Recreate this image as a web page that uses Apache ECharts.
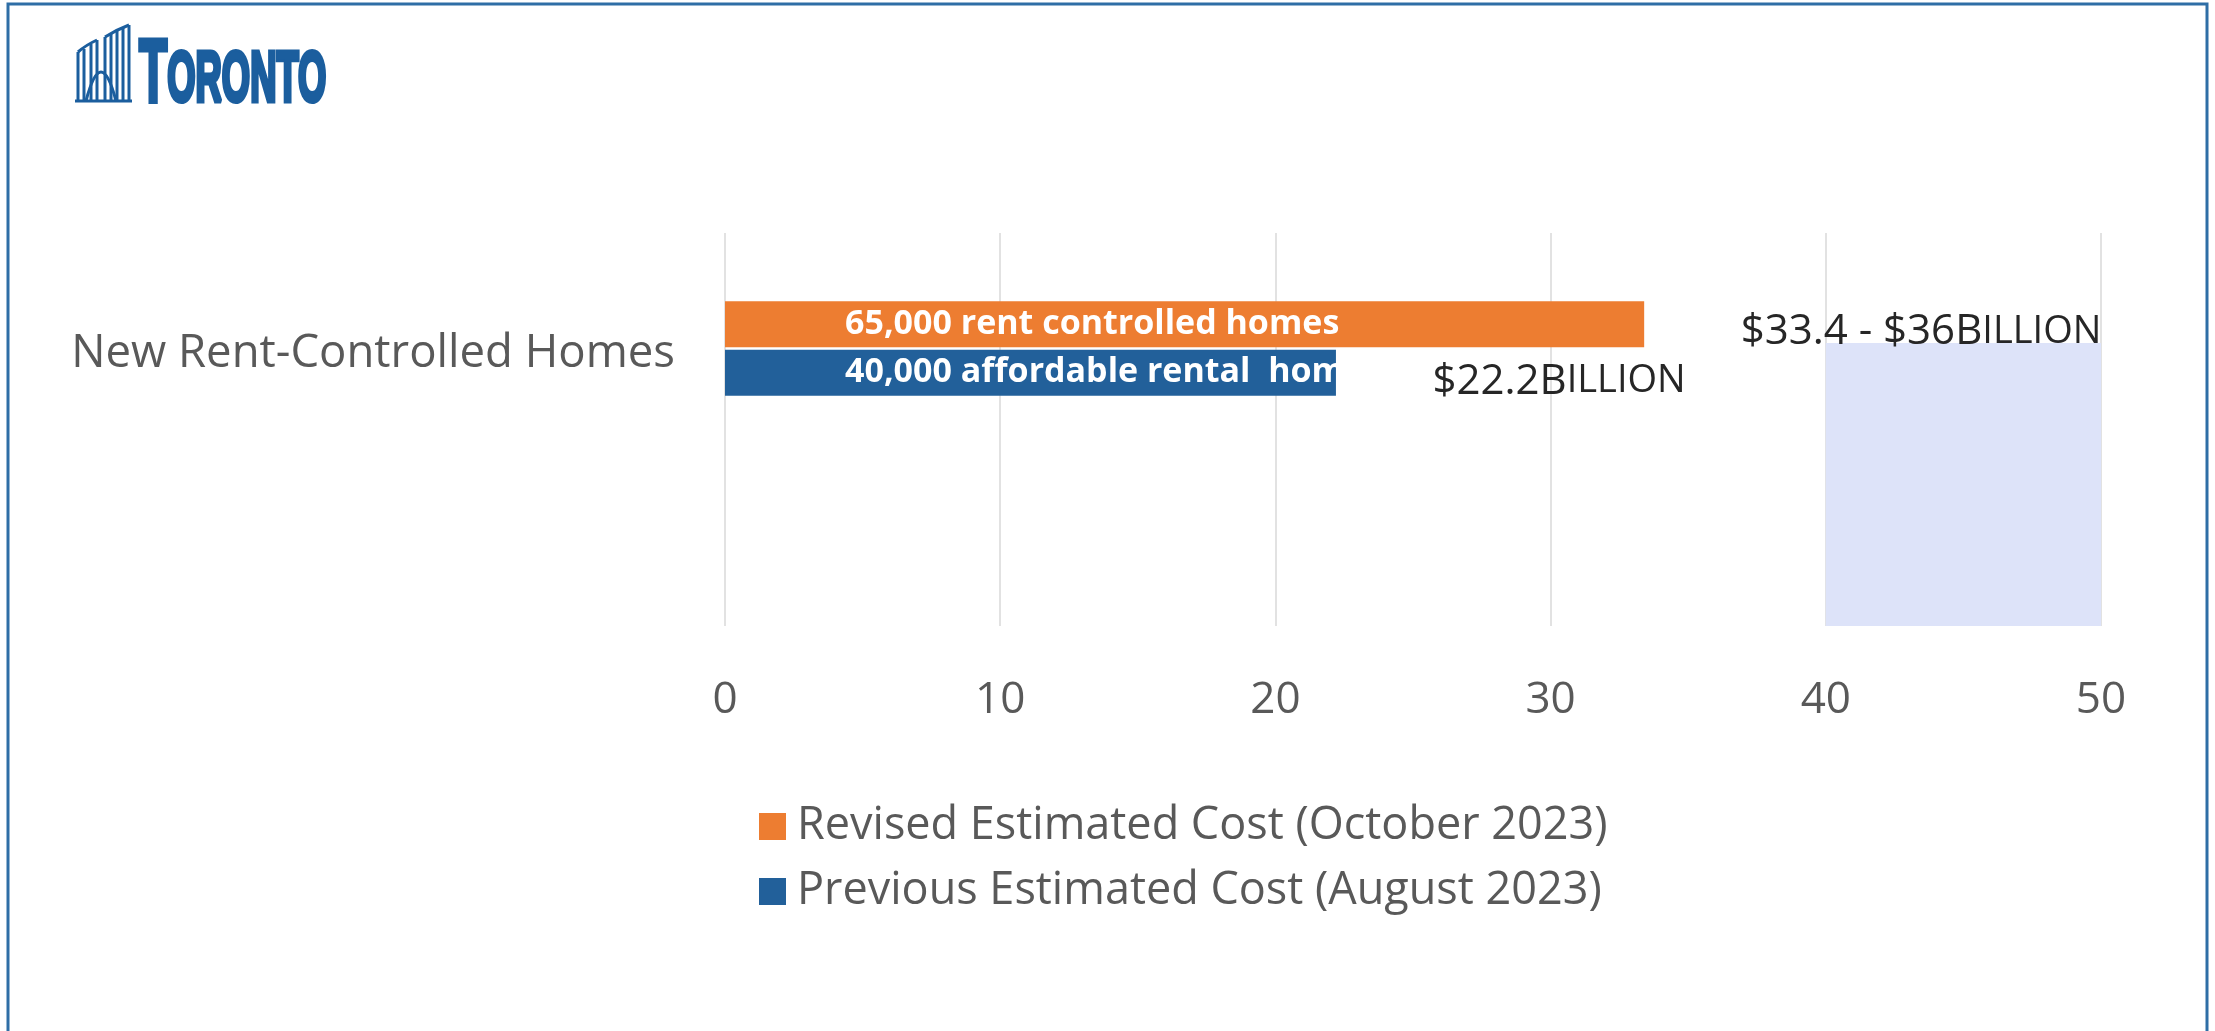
<!DOCTYPE html>
<html>
<head>
<meta charset="utf-8">
<script src="https://cdn.jsdelivr.net/npm/echarts@6/dist/echarts.min.js"></script>
<style>
  html, body { margin: 0; padding: 0; background: #fff; }
  #chart { width: 2215px; height: 1031px; }
</style>
</head>
<body>
<div id="chart"></div>
<script>
/* chart data */
const categories = ['New Rent-Controlled Homes']
const seriesNames = ['Revised Estimated Cost (October 2023)', 'Previous Estimated Cost (August 2023)']
const revisedCost = [33.4]
const previousCost = [22.2]
const barTexts = ['65,000 rent controlled homes', '40,000 affordable rental  homes']
const costTexts = [['$33.4 - $36B', 'ILLION'], ['$22.2B', 'ILLION']]
const xTicks = [0, 10, 20, 30, 40, 50]
const highlightRange = [40, 50]
const highlightTop = 0.72

const ORANGE = '#ED7D31'
const BLUE = '#22609A'
const GREY = '#595959'
const LOGO = '#1B5E9E'
const FONT = '"Open Sans", sans-serif'

var myChart = echarts.init(document.getElementById('chart'))

// cost label drawn as marker at end of each bar
function costMark(idx, value, dy) {
  return {
    symbol: 'rect',
    symbolSize: 1,
    itemStyle: { color: 'rgba(0,0,0,0)' },
    label: {
      show: true,
      position: 'right',
      distance: 96,
      offset: [0, dy],
      formatter: '{a|' + costTexts[idx][0] + '}{b|' + costTexts[idx][1] + '}',
      rich: {
        a: { fontFamily: FONT, fontSize: 42, color: '#262626' },
        b: { fontFamily: FONT, fontSize: 38, color: '#262626' },
      },
    },
    data: [{ coord: [value, categories[0]] }],
  }
}

// white text inside bar; the part past the bar end is lost on the white page
function barLabel(idx, width) {
  return {
    show: true,
    position: 'insideLeft',
    distance: 120,
    formatter: barTexts[idx],
    color: '#fff',
    fontFamily: FONT,
    fontWeight: 'bold',
    fontSize: 34,
    width: width,
    overflow: 'truncate',
    ellipsis: '',
  }
}

/* logo strokes */
function seg(x1, y1, x2, y2) {
  return { type: 'line', shape: { x1: x1, y1: y1, x2: x2, y2: y2 }, style: { stroke: LOGO, lineWidth: 3 } }
}
function curve(x1, y1, cx, cy, x2, y2) {
  return {
    type: 'bezierCurve',
    shape: { x1: x1, y1: y1, cpx1: cx, cpy1: cy, x2: x2, y2: y2 },
    style: { stroke: LOGO, lineWidth: 3, fill: 'none' },
  }
}

const logoParts = [
  seg(75, 101, 132, 101),
  seg(78, 101, 78, 52), curve(78, 52, 86, 45, 97, 40), seg(97, 40, 97, 101),
  seg(84, 101, 84, 49), seg(91, 101, 91, 44),
  seg(105, 101, 105, 37), curve(105, 37, 116, 30, 129, 25), seg(129, 25, 129, 101),
  seg(111, 101, 111, 34), seg(117, 101, 117, 31), seg(123, 101, 123, 28),
  curve(86, 101, 101, 43, 116, 101),
  {
    type: 'text',
    x: 139,
    y: 121,
    scaleX: 0.52,
    style: {
      text: '{t|T}{r|ORONTO}',
      verticalAlign: 'bottom',
      rich: {
        t: { fontFamily: '"Liberation Sans", sans-serif', fontWeight: 'bold', fontSize: 89, fill: LOGO, stroke: LOGO, lineWidth: 5, verticalAlign: 'bottom' },
        r: { fontFamily: '"Liberation Sans", sans-serif', fontWeight: 'bold', fontSize: 70, fill: LOGO, stroke: LOGO, lineWidth: 5, verticalAlign: 'bottom', padding: [0, 0, 4, 0] },
      },
    },
  },
]

const option = {
  animation: false,
  legend: {
    orient: 'vertical',
    left: 754,
    top: 799,
    icon: 'rect',
    itemWidth: 27,
    itemHeight: 27,
    itemGap: 20,
    data: seriesNames,
    textStyle: { fontFamily: FONT, fontSize: 45, lineHeight: 45, color: GREY, padding: [0, 0, 0, 6] },
  },
  grid: [
    // background grid: split lines + tick labels
    { left: 725, right: 114, top: 233, bottom: 405 },
    // bars
    { left: 725, right: 114, top: 300, height: 97 },
  ],
  xAxis: [
    {
      gridIndex: 0,
      type: 'value',
      min: xTicks[0],
      max: xTicks[xTicks.length - 1],
      interval: xTicks[1] - xTicks[0],
      axisLine: { show: false },
      axisTick: { show: false },
      axisLabel: { fontFamily: FONT, fontSize: 44, color: GREY, margin: 52 },
      splitLine: { lineStyle: { color: '#D9D9D9', width: 1.5 } },
    },
    {
      gridIndex: 1,
      type: 'value',
      min: xTicks[0],
      max: xTicks[xTicks.length - 1],
      show: false,
      splitLine: { show: false },
    },
  ],
  yAxis: [
    { gridIndex: 0, type: 'value', min: 0, max: 1, show: false, splitLine: { show: false } },
    {
      gridIndex: 1,
      type: 'category',
      data: categories,
      axisLine: { show: false },
      axisTick: { show: false },
      axisLabel: {
        margin: 50,
        formatter: '{c|{value}}',
        rich: { c: { fontFamily: FONT, fontSize: 45.5, color: GREY, padding: [12, 0, 0, 0] } },
      },
    },
  ],
  series: [
    {
      name: 'highlight',
      type: 'line',
      xAxisIndex: 0,
      yAxisIndex: 0,
      data: [[highlightRange[0], 0]],
      showSymbol: false,
      silent: true,
      markArea: {
        silent: true,
        itemStyle: { color: '#DDE3F9' },
        data: [[{ coord: [highlightRange[0], 0] }, { coord: [highlightRange[1], highlightTop] }]],
      },
    },
    {
      name: seriesNames[0],
      type: 'bar',
      xAxisIndex: 1,
      yAxisIndex: 1,
      data: revisedCost,
      barWidth: 46,
      barGap: '5%',
      itemStyle: { color: ORANGE },
      label: barLabel(0, 800),
      markPoint: costMark(0, revisedCost[0], 8),
    },
    {
      name: seriesNames[1],
      type: 'bar',
      xAxisIndex: 1,
      yAxisIndex: 1,
      data: previousCost,
      barWidth: 46,
      barGap: '5%',
      itemStyle: { color: BLUE },
      label: barLabel(1, 540),
      markPoint: costMark(1, previousCost[0], 9),
    },
  ],
  graphic: [
    // frame
    {
      type: 'rect',
      shape: { x: 8, y: 4, width: 2199, height: 1100 },
      style: { fill: 'none', stroke: '#2E6EA6', lineWidth: 3 },
      z: 100,
    },
    // city logo
    { type: 'group', x: 0, y: 0, children: logoParts },
  ],
}

myChart.setOption(option)
</script>
</body>
</html>
